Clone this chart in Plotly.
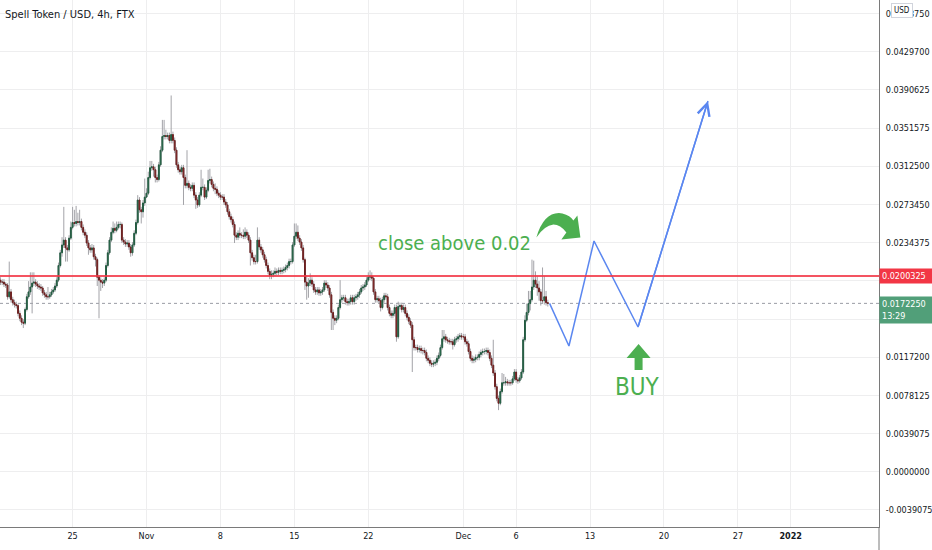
import plotly.graph_objects as go
import pandas as pd

TITLE = "Spell Token / USD, 4h, FTX"
START = "2021-10-18 04:00"
OPEN0 = 0.0196

closes = [
    .0194, .0194, .0192, .0191, .0179, .0184, .0176, .0173, .0171, .0170,
    .0162, .0157, .0153, .0152, .0166, .0179, .0184, .0189, .0193, .0194,
    .0192, .0190, .0189, .0188, .0183, .0181, .0179, .0179, .0181, .0184,
    .0186, .0190, .0196, .0211, .0224, .0232, .0237, .0229, .0227, .0239,
    .0250, .0255, .0254, .0256, .0255, .0256, .0250, .0245, .0242, .0234,
    .0229, .0227, .0229, .0220, .0217, .0199, .0196, .0194, .0193, .0196,
    .0211, .0224, .0237, .0245, .0249, .0247, .0250, .0253, .0253, .0237,
    .0235, .0233, .0234, .0230, .0224, .0232, .0244, .0255, .0278, .0268,
    .0266, .0275, .0281, .0285, .0301, .0311, .0312, .0309, .0301, .0299,
    .0314, .0329, .0343, .0344, .0343, .0344, .0339, .0345, .0339, .0329,
    .0314, .0309, .0307, .0311, .0301, .0293, .0295, .0291, .0290, .0293,
    .0283, .0278, .0273, .0283, .0291, .0291, .0281, .0288, .0298, .0299,
    .0294, .0290, .0289, .0285, .0283, .0281, .0281, .0276, .0273, .0266,
    .0261, .0258, .0253, .0242, .0240, .0244, .0242, .0242, .0241, .0245,
    .0242, .0237, .0224, .0219, .0215, .0215, .0237, .0230, .0227, .0222,
    .0217, .0211, .0205, .0201, .0202, .0203, .0205, .0204, .0206, .0205,
    .0206, .0207, .0209, .0211, .0215, .0215, .0232, .0241, .0245, .0239,
    .0235, .0229, .0217, .0194, .0190, .0193, .0196, .0192, .0186, .0184,
    .0186, .0183, .0184, .0186, .0193, .0191, .0188, .0181, .0163, .0157,
    .0155, .0157, .0168, .0176, .0178, .0178, .0174, .0173, .0174, .0178,
    .0174, .0178, .0179, .0181, .0184, .0188, .0189, .0191, .0196, .0199,
    .0200, .0198, .0184, .0176, .0177, .0175, .0168, .0176, .0180, .0179,
    .0168, .0162, .0160, .0162, .0168, .0138, .0169, .0170, .0166, .0168,
    .0162, .0158, .0154, .0150, .0135, .0127, .0127, .0125, .0126, .0124,
    .0124, .0122, .0116, .0114, .0111, .0110, .0111, .0112, .0116, .0119,
    .0127, .0136, .0138, .0135, .0134, .0133, .0133, .0130, .0135, .0136,
    .0138, .0139, .0138, .0138, .0133, .0131, .0123, .0116, .0114, .0115,
    .0117, .0117, .0120, .0122, .0123, .0123, .0124, .0122, .0116, .0109,
    .0101, .0087, .0075, .0070, .0082, .0091, .0091, .0092, .0091, .0091,
    .0091, .0095, .0102, .0094, .0093, .0096, .0102, .0135, .0155, .0163,
    .0172, .0176, .0189, .0196, .0192, .0188, .0184, .0175, .0175, .0179,
    .0173, .017225,
]

highs = [
    .0199, .0197, .0197, .0194, .0193, .0215, .0187, .0179, .0176, .0174,
    .0172, .0165, .0160, .0156, .0168, .0182, .0195, .0204, .0204, .0204,
    .0197, .0195, .0193, .0192, .0190, .0186, .0184, .0189, .0184, .0187,
    .0189, .0193, .0199, .0214, .0227, .0240, .0271, .0240, .0232, .0242,
    .0256, .0271, .0268, .0272, .0265, .0268, .0259, .0253, .0248, .0245,
    .0237, .0232, .0233, .0232, .0223, .0219, .0201, .0199, .0197, .0199,
    .0214, .0227, .0240, .0250, .0256, .0254, .0256, .0256, .0256, .0255,
    .0240, .0238, .0237, .0237, .0233, .0235, .0247, .0258, .0283, .0281,
    .0271, .0278, .0300, .0290, .0307, .0318, .0318, .0315, .0312, .0304,
    .0317, .0333, .0360, .0360, .0350, .0347, .0347, .0385, .0348, .0342,
    .0332, .0317, .0312, .0314, .0314, .0304, .0329, .0298, .0294, .0296,
    .0296, .0286, .0281, .0286, .0309, .0300, .0294, .0291, .0309, .0310,
    .0302, .0297, .0295, .0292, .0288, .0286, .0284, .0284, .0279, .0276,
    .0269, .0264, .0261, .0256, .0245, .0247, .0250, .0245, .0248, .0250,
    .0248, .0245, .0240, .0227, .0222, .0222, .0250, .0240, .0233, .0230,
    .0225, .0220, .0214, .0208, .0206, .0206, .0209, .0208, .0209, .0209,
    .0209, .0210, .0212, .0214, .0218, .0218, .0235, .0254, .0254, .0252,
    .0242, .0238, .0232, .0219, .0201, .0198, .0203, .0199, .0195, .0189,
    .0189, .0189, .0187, .0189, .0196, .0196, .0194, .0191, .0184, .0166,
    .0160, .0160, .0171, .0196, .0181, .0181, .0181, .0177, .0177, .0181,
    .0181, .0181, .0182, .0184, .0187, .0191, .0192, .0194, .0199, .0204,
    .0206, .0204, .0200, .0187, .0180, .0180, .0178, .0179, .0183, .0183,
    .0182, .0171, .0165, .0165, .0171, .0171, .0174, .0173, .0173, .0171,
    .0171, .0165, .0161, .0157, .0153, .0138, .0130, .0130, .0129, .0129,
    .0127, .0127, .0125, .0119, .0117, .0114, .0114, .0115, .0119, .0122,
    .0130, .0145, .0145, .0141, .0138, .0137, .0136, .0136, .0138, .0139,
    .0141, .0142, .0142, .0141, .0141, .0136, .0134, .0126, .0119, .0118,
    .0120, .0120, .0123, .0125, .0126, .0126, .0127, .0127, .0125, .0119,
    .0135, .0104, .0090, .0078, .0085, .0101, .0100, .0097, .0095, .0094,
    .0094, .0098, .0105, .0105, .0097, .0099, .0105, .0138, .0160, .0172,
    .0185, .0185, .0217, .0216, .0205, .0200, .0195, .0187, .0209, .0200,
    .0185, .0176,
]

lows = [
    .0191, .0191, .0189, .0188, .0176, .0177, .0173, .0170, .0168, .0167,
    .0159, .0154, .0150, .0147, .0150, .0164, .0177, .0181, .0162, .0190,
    .0189, .0187, .0186, .0185, .0180, .0178, .0176, .0176, .0177, .0179,
    .0182, .0184, .0188, .0194, .0209, .0220, .0229, .0215, .0215, .0225,
    .0237, .0248, .0251, .0251, .0252, .0252, .0247, .0242, .0239, .0231,
    .0222, .0224, .0224, .0217, .0210, .0190, .0157, .0185, .0188, .0190,
    .0194, .0209, .0222, .0235, .0243, .0244, .0245, .0248, .0249, .0234,
    .0232, .0230, .0230, .0227, .0220, .0221, .0230, .0242, .0253, .0265,
    .0254, .0260, .0272, .0280, .0283, .0299, .0308, .0302, .0296, .0296,
    .0297, .0312, .0327, .0340, .0340, .0340, .0336, .0336, .0336, .0326,
    .0311, .0306, .0304, .0304, .0273, .0290, .0290, .0288, .0287, .0287,
    .0280, .0269, .0270, .0271, .0281, .0288, .0278, .0279, .0286, .0295,
    .0291, .0287, .0284, .0282, .0280, .0278, .0278, .0273, .0270, .0263,
    .0258, .0255, .0250, .0234, .0237, .0237, .0239, .0239, .0238, .0238,
    .0239, .0234, .0211, .0216, .0212, .0212, .0213, .0227, .0224, .0219,
    .0214, .0208, .0202, .0197, .0197, .0199, .0200, .0201, .0201, .0202,
    .0202, .0203, .0204, .0206, .0208, .0212, .0213, .0230, .0238, .0236,
    .0232, .0226, .0214, .0186, .0176, .0178, .0190, .0189, .0183, .0181,
    .0181, .0180, .0180, .0181, .0184, .0188, .0185, .0178, .0145, .0145,
    .0150, .0152, .0155, .0166, .0173, .0175, .0171, .0170, .0170, .0171,
    .0171, .0171, .0175, .0176, .0178, .0182, .0185, .0186, .0189, .0194,
    .0196, .0195, .0181, .0173, .0173, .0172, .0164, .0166, .0173, .0176,
    .0165, .0159, .0157, .0157, .0159, .0133, .0136, .0166, .0163, .0163,
    .0159, .0155, .0151, .0147, .0102, .0124, .0124, .0122, .0122, .0121,
    .0120, .0119, .0113, .0111, .0108, .0107, .0107, .0108, .0109, .0113,
    .0117, .0125, .0133, .0132, .0131, .0130, .0130, .0125, .0128, .0132,
    .0133, .0135, .0135, .0135, .0130, .0128, .0120, .0113, .0111, .0111,
    .0112, .0114, .0114, .0117, .0119, .0120, .0120, .0119, .0113, .0106,
    .0098, .0084, .0072, .0063, .0068, .0080, .0088, .0088, .0088, .0088,
    .0088, .0089, .0093, .0091, .0090, .0091, .0094, .0100, .0133, .0153,
    .0160, .0165, .0174, .0186, .0188, .0180, .0175, .0170, .0172, .0171,
    .0170, .0169,
]

LAST_PRICE = 0.017225
LAST_TIME_LEFT = "13:29"
LEVEL = 0.0200325

proj_dates = ["2021-12-09 04:00", "2021-12-11 00:00", "2021-12-13 09:00",
              "2021-12-17 13:00", "2021-12-24 04:00"]
proj_prices = [0.017225, 0.01286, 0.02361, 0.01481, 0.03794]

x_tick_dates = ["2021-10-25", "2021-11-01", "2021-11-08", "2021-11-15", "2021-11-22",
                "2021-12-01", "2021-12-06", "2021-12-13", "2021-12-20", "2021-12-27",
                "2022-01-01"]
x_tick_text = ["25", "Nov", "8", "15", "22", "Dec", "6", "13", "20", "27", "<b>2022</b>"]

y_tick_vals = [-0.0039075, 0.0, 0.0039075, 0.0078125, 0.0117200, 0.0156250,
               0.0195300, 0.0234375, 0.0273450, 0.0312500, 0.0351575, 0.0390625,
               0.0429700, 0.0468750]
# labels at 0.0156250 / 0.0195300 sit under the price badges, so they are left blank
y_hidden = [0.0156250, 0.0195300]
y_tick_text = ["" if v in y_hidden else f"{v:.7f}" for v in y_tick_vals]

NOTE_TEXT = "close above 0.02"
NOTE_POS = ("2021-11-30 03:00", 0.0234)
BUY_TEXT = "BUY"
BUY_POS = ("2021-12-17 12:00", 0.0087)

# ---------------------------------------------------------------- styling
FONT = "DejaVu Sans Condensed, DejaVu Sans, sans-serif"
TXT = "#131722"
GRID = "#eeeeef"
AXIS = "#7a7a7a"
GREEN_TXT = "#4caf50"
BLUE = "#5b87f0"
WICK = "#a3a3a8"

n = min(len(closes), len(highs), len(lows))
closes, highs, lows = closes[:n], highs[:n], lows[:n]
dates = pd.date_range(START, periods=n, freq="4h")
opens = [OPEN0] + closes[:-1]
body_hi = [max(o, c) for o, c in zip(opens, closes)]
body_lo = [min(o, c) for o, c in zip(opens, closes)]

fig = go.Figure()
# full range (wicks) in grey, drawn first
fig.add_trace(go.Candlestick(
    x=dates, open=opens, high=highs, low=lows, close=closes,
    increasing=dict(fillcolor=WICK, line=dict(color=WICK, width=1)),
    decreasing=dict(fillcolor=WICK, line=dict(color=WICK, width=1)),
    whiskerwidth=0, hoverinfo="skip",
))
# coloured bodies on top
fig.add_trace(go.Candlestick(
    x=dates, open=opens, high=body_hi, low=body_lo, close=closes,
    increasing=dict(fillcolor="#3d9a6d", line=dict(color="#235a40", width=1)),
    decreasing=dict(fillcolor="#cc4038", line=dict(color="#6a2020", width=1)),
    whiskerwidth=0,
))
fig.add_trace(go.Scatter(x=proj_dates, y=proj_prices, mode="lines",
                         line=dict(color=BLUE, width=1.5), hoverinfo="skip"))

shapes = [
    dict(type="line", xref="paper", x0=0, x1=1, yref="y", y0=LEVEL, y1=LEVEL,
         line=dict(color="rgba(242,54,69,0.85)", width=2), layer="above"),
    dict(type="line", xref="paper", x0=0, x1=1, yref="y", y0=LAST_PRICE, y1=LAST_PRICE,
         line=dict(color="#9a9ca4", width=1, dash="dot"), layer="below"),
    dict(type="line", xref="paper", x0=1, x1=1, yref="paper", y0=0, y1=-0.05,
         line=dict(color=AXIS, width=1)),
    # curved "close above" arrow, sized in pixels around a data anchor
    dict(type="path", xref="x", yref="y", xsizemode="pixel", ysizemode="pixel",
         xanchor="2021-12-10 00:00", yanchor=0.025,
         path="M-22,-10 Q-14,17 4,14 Q12,12 15,7 L19,12 L22,-10 L3,-12 L8,-5 "
              "Q2,3 -5,3 Q-14,2 -22,-10 Z",
         fillcolor=GREEN_TXT, line=dict(width=0)),
    # up arrow above BUY
    dict(type="path", xref="x", yref="y", xsizemode="pixel", ysizemode="pixel",
         xanchor="2021-12-17 12:00", yanchor=0.0100,
         path="M1,30 L13,16 L5,16 L5,4 L-3,4 L-3,16 L-11,16 Z",
         fillcolor=GREEN_TXT, line=dict(width=0)),
]

annotations = [
    dict(text=TITLE, xref="paper", yref="paper", x=0, y=1, xanchor="left", yanchor="top",
         xshift=3, yshift=-6, showarrow=False, font=dict(family=FONT, size=11, color=TXT)),
    dict(text=NOTE_TEXT, x=NOTE_POS[0], y=NOTE_POS[1], xref="x", yref="y",
         showarrow=False, font=dict(family=FONT, size=20, color=GREEN_TXT)),
    dict(text=BUY_TEXT, x=BUY_POS[0], y=BUY_POS[1], xref="x", yref="y",
         showarrow=False, font=dict(family=FONT, size=24, color=GREEN_TXT)),
    dict(text=f"{LEVEL:.7f}", xref="paper", yref="y", x=1, y=LEVEL, xanchor="left",
         yanchor="middle", showarrow=False, bgcolor="#f23645", borderpad=2, width=49,
         align="left", font=dict(family=FONT, size=9, color="white")),
    dict(text=f"{LAST_PRICE:.7f}<br>{LAST_TIME_LEFT}", xref="paper", yref="y", x=1,
         y=LAST_PRICE, xanchor="left", yanchor="top", yshift=7, showarrow=False,
         bgcolor="#519f79", borderpad=2, width=49, align="left",
         font=dict(family=FONT, size=9, color="white")),
    dict(text="USD", xref="paper", yref="paper", x=1, y=1, xanchor="center", yanchor="top",
         xshift=23, yshift=-3, showarrow=False, bgcolor="white", bordercolor="#d1d4dc",
         borderwidth=1, borderpad=2, font=dict(family=FONT, size=8, color=TXT)),
    dict(text="", x=proj_dates[-1], y=proj_prices[-1], ax=proj_dates[-2], ay=proj_prices[-2],
         xref="x", yref="y", axref="x", ayref="y", showarrow=True, arrowhead=5,
         arrowsize=1.6, arrowwidth=1.5, arrowcolor=BLUE),
]

fig.update_layout(
    width=932, height=550,
    margin=dict(l=0, r=53, t=0, b=23, autoexpand=False),
    paper_bgcolor="white", plot_bgcolor="white",
    showlegend=False,
    shapes=shapes, annotations=annotations,
    xaxis=dict(type="date", range=["2021-10-18 03:00", "2022-01-09 08:40"],
               tickvals=x_tick_dates, ticktext=x_tick_text,
               showgrid=True, gridcolor=GRID, gridwidth=1,
               showline=True, linecolor=AXIS, linewidth=1, ticks="", zeroline=False,
               tickfont=dict(family=FONT, size=9, color=TXT),
               rangeslider=dict(visible=False)),
    yaxis=dict(side="right", range=[-0.00566, 0.04827],
               tickvals=y_tick_vals, ticktext=y_tick_text,
               showgrid=True, gridcolor=GRID, gridwidth=1,
               showline=True, linecolor=AXIS, linewidth=1, ticks="", zeroline=False,
               ticklabelstandoff=4,
               tickfont=dict(family=FONT, size=9, color=TXT)),
)

fig.write_html("out.html", config={"displayModeBar": False},
               post_script="document.body.style.margin='0px';")
